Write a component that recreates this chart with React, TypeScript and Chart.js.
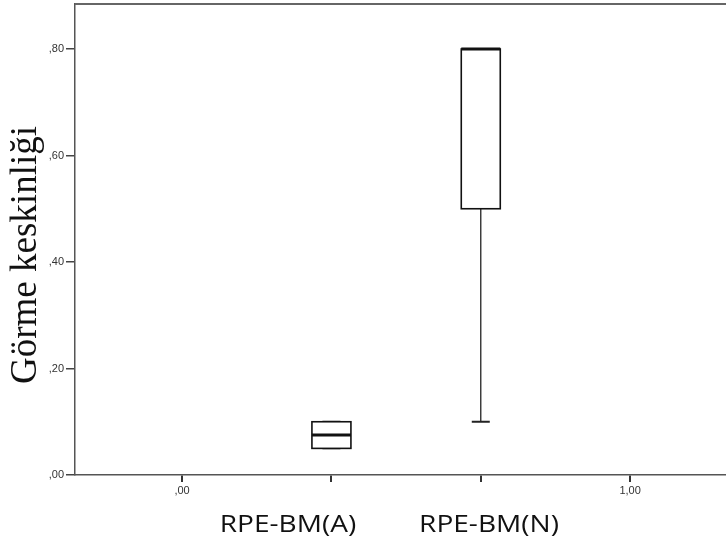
import React, { useEffect, useRef } from "react";
import { Chart, registerables } from "chart.js";

Chart.register(...registerables);

// Data
const categories = ["RPE-BM(A)", "RPE-BM(N)"];
const boxPositions = [1 / 3, 2 / 3];
const mins = [0.05, 0.1];
const q1s = [0.05, 0.5];
const medians = [0.075, 0.8];
const q3s = [0.1, 0.8];
const maxs = [0.1, 0.8];
const yTickValues = [0, 0.2, 0.4, 0.6, 0.8];
const xTickValues = [0, 1 / 3, 2 / 3, 1];
const xTickLabels = [",00", "", "", "1,00"];
const yTitle = "Görme keskinliği";

const fmtY = (v: number) => "," + Math.round(v * 100).toString().padStart(2, "0");

const boxPlugin = {
  id: "boxPlugin",
  afterDatasetsDraw(chart: any) {
    const { ctx, chartArea, scales } = chart;
    const xs = scales.x;
    const ys = scales.y;
    ctx.save();
    // top frame line
    ctx.strokeStyle = "#666";
    ctx.lineWidth = 2;
    ctx.beginPath();
    ctx.moveTo(chartArea.left, chartArea.top);
    ctx.lineTo(chartArea.right, chartArea.top);
    ctx.stroke();

    const half = 19.5;
    const capHalf = 9;
    for (let i = 0; i < categories.length; i++) {
      const x = xs.getPixelForValue(boxPositions[i]);
      const yMin = ys.getPixelForValue(mins[i]);
      const yQ1 = ys.getPixelForValue(q1s[i]);
      const yMed = ys.getPixelForValue(medians[i]);
      const yQ3 = ys.getPixelForValue(q3s[i]);
      const yMax = ys.getPixelForValue(maxs[i]);
      ctx.strokeStyle = "#222";
      ctx.lineWidth = 1.3;
      // whiskers
      ctx.beginPath();
      ctx.moveTo(x, yQ1);
      ctx.lineTo(x, yMin);
      ctx.moveTo(x, yQ3);
      ctx.lineTo(x, yMax);
      ctx.stroke();
      // caps
      ctx.lineWidth = 2;
      ctx.beginPath();
      ctx.moveTo(x - capHalf, yMin);
      ctx.lineTo(x + capHalf, yMin);
      ctx.moveTo(x - capHalf, yMax);
      ctx.lineTo(x + capHalf, yMax);
      ctx.stroke();
      // box
      ctx.fillStyle = "#fff";
      ctx.fillRect(x - half, yQ3, half * 2, yQ1 - yQ3);
      ctx.strokeStyle = "#111";
      ctx.lineWidth = 1.6;
      ctx.strokeRect(x - half, yQ3, half * 2, yQ1 - yQ3);
      // median
      ctx.lineWidth = 3;
      ctx.beginPath();
      ctx.moveTo(x - half, yMed);
      ctx.lineTo(x + half, yMed);
      ctx.stroke();
    }

    // y title
    ctx.fillStyle = "#111";
    ctx.font = '37px "Liberation Serif", serif';
    ctx.textAlign = "center";
    ctx.textBaseline = "middle";
    ctx.translate(26, 255);
    ctx.rotate(-Math.PI / 2);
    ctx.fillText(yTitle, 0, 0);
    ctx.restore();

    // category labels
    const labelCenters = [288, 489];
    ctx.save();
    ctx.fillStyle = "#111";
    ctx.font = '23px "Open Sans", sans-serif';
    ctx.textAlign = "center";
    ctx.textBaseline = "middle";
    for (let i = 0; i < categories.length; i++) {
      ctx.save();
      ctx.translate(labelCenters[i], 525);
      ctx.scale(1.22, 1);
      ctx.fillText(categories[i], 0, 0);
      ctx.restore();
    }
    ctx.restore();
  },
};

export default function App() {
  const ref = useRef<HTMLCanvasElement | null>(null);
  useEffect(() => {
    if (!ref.current) return;
    const chart = new Chart(ref.current, {
      type: "scatter",
      data: {
        datasets: [
          {
            data: boxPositions.map((p, i) => ({ x: p, y: medians[i] })),
            pointRadius: 0,
            showLine: false,
          },
        ],
      },
      options: {
        responsive: false,
        animation: false,
        devicePixelRatio: 1,
        layout: { padding: { top: 4, left: 0, right: 0, bottom: 0 } },
        plugins: { legend: { display: false }, tooltip: { enabled: false } },
        scales: {
          x: {
            type: "linear",
            min: -0.239,
            max: 1.214,
            afterBuildTicks: (s: any) => {
              s.ticks = xTickValues.map((v) => ({ value: v }));
            },
            afterFit: (s: any) => {
              s.height = 70;
              s.paddingLeft = 0;
              s.paddingRight = 0;
            },
            ticks: {
              autoSkip: false,
              maxRotation: 0,
              padding: 2,
              color: "#333",
              font: { family: "Arial, 'Liberation Sans'", size: 11 },
              callback: (v: any) => {
                const idx = xTickValues.findIndex((t) => Math.abs(t - Number(v)) < 1e-6);
                return idx >= 0 ? xTickLabels[idx] : "";
              },
            },
            grid: { drawOnChartArea: false, tickLength: 7, color: "#333", lineWidth: 2 },
            border: { color: "#555", width: 1.5 },
          },
          y: {
            type: "linear",
            min: 0,
            max: 0.8845,
            afterBuildTicks: (s: any) => {
              s.ticks = yTickValues.map((v) => ({ value: v }));
            },
            afterFit: (s: any) => {
              s.width = 75;
              s.paddingTop = 0;
              s.paddingBottom = 0;
            },
            ticks: {
              padding: 2,
              color: "#333",
              font: { family: "Arial, 'Liberation Sans'", size: 11 },
              callback: (v: any) => fmtY(Number(v)),
            },
            grid: { drawOnChartArea: false, tickLength: 9, color: "#444", lineWidth: 1.5 },
            border: { color: "#555", width: 1.5 },
          },
        },
      },
      plugins: [boxPlugin],
    });
    return () => chart.destroy();
  }, []);
  return (
    <div style={{ position: "fixed", left: 0, top: 0, width: 726, height: 545, background: "#fff" }}>
      <canvas ref={ref} width={726} height={545} />
    </div>
  );
}
